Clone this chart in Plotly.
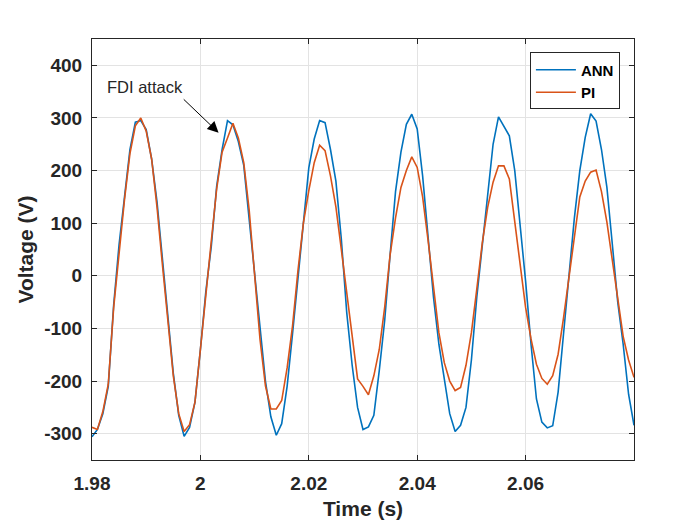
import numpy as np
import plotly.graph_objects as go

# sample times (1 ms steps from 1.98 s to 2.08 s)
time_s = np.round(1.98 + 0.001 * np.arange(101), 3)

# voltage (V)
ann_v = [-306, -292, -262, -210, -55, 60, 150, 240, 292, 295,
         278, 222, 140, 30, -80, -185, -265, -305, -288, -240,
         -140, -30, 55, 170, 240, 295, 287, 255, 210, 110,
         10, -102, -200, -268, -303, -281, -210, -110, 0, 110,
         205, 260, 295, 291, 240, 180, 70, -70, -170, -250,
         -292, -287, -265, -180, -85, 40, 160, 235, 288, 307,
         279, 190, 70, -40, -130, -200, -262, -296, -284, -250,
         -160, -40, 60, 160, 250, 302, 285, 266, 200, 100,
         -10, -130, -234, -278, -289, -285, -221, -110, 5, 110,
         200, 263, 308, 294, 240, 168, 60, -50, -130, -225,
         -284]

pi_v = [-288, -292, -258, -206, -60, 50, 145, 232, 285, 300,
        275, 222, 130, 20, -90, -190, -262, -296, -283, -240,
        -140, -30, 65, 165, 235, 262, 290, 262, 215, 125,
        0, -121, -209, -253, -253, -237, -175, -95, 10, 100,
        162, 215, 248, 238, 190, 131, 50, -33, -120, -196,
        -210, -226, -190, -140, -60, 40, 110, 168, 200, 226,
        206, 150, 68, -20, -108, -165, -200, -218, -212, -170,
        -108, -25, 62, 130, 178, 209, 209, 184, 100, 20,
        -60, -120, -168, -195, -206, -190, -149, -80, 0, 75,
        150, 180, 197, 201, 160, 102, 30, -45, -115, -160,
        -193]

x_ticks = [1.98, 2.0, 2.02, 2.04, 2.06]
x_tick_text = ["1.98", "2", "2.02", "2.04", "2.06"]
y_ticks = [-300, -200, -100, 0, 100, 200, 300, 400]
y_tick_text = ["-300", "-200", "-100", "0", "100", "200", "300", "400"]

FONT = "Liberation Sans, Arial, sans-serif"
INK = "#262626"

fig = go.Figure()
fig.add_trace(go.Scatter(x=time_s, y=ann_v, mode="lines", name="ANN",
                         line=dict(color="#0072BD", width=1.6)))
fig.add_trace(go.Scatter(x=time_s, y=pi_v, mode="lines", name="PI",
                         line=dict(color="#D95319", width=1.6)))

axis_common = dict(
    showline=True, linecolor=INK, linewidth=1, mirror="ticks",
    ticks="inside", ticklen=5, tickcolor=INK,
    showgrid=True, gridcolor="#e3e3e3", gridwidth=1, zeroline=False,
    tickfont=dict(family=FONT, size=19, color=INK, weight="bold"),
)

fig.update_xaxes(range=[1.98, 2.08], tickvals=x_ticks, ticktext=x_tick_text,
                 ticklabelstandoff=6,
                 title=dict(text="<b>Time (s)</b>", standoff=8,
                            font=dict(size=21, color=INK)),
                 **axis_common)
fig.update_yaxes(range=[-350, 450], tickvals=y_ticks, ticktext=y_tick_text,
                 ticklabelstandoff=5,
                 title=dict(text="<b>Voltage (V)</b>", standoff=4,
                            font=dict(size=21, color=INK)),
                 **axis_common)

# "FDI attack" label and arrow
fig.add_annotation(x=1.9897, y=358, text="FDI attack", showarrow=False,
                   font=dict(family=FONT, size=16.5, color=INK))
fig.add_annotation(x=2.00335, y=272, ax=1.99665, ay=338, axref="x", ayref="y",
                   text="", showarrow=True, arrowhead=2, arrowsize=2.2,
                   arrowwidth=1, arrowcolor="black")

fig.update_layout(
    width=700, height=525,
    paper_bgcolor="white", plot_bgcolor="white",
    margin=dict(l=84, r=74, t=31, b=73),
    font=dict(family=FONT, color=INK),
    showlegend=True,
    legend=dict(x=0.974, y=0.968, xanchor="right", yanchor="top",
                bordercolor=INK, borderwidth=1, bgcolor="white",
                font=dict(size=15, color="black", weight="bold"),
                itemwidth=40),
)

fig.write_html("out.html")
